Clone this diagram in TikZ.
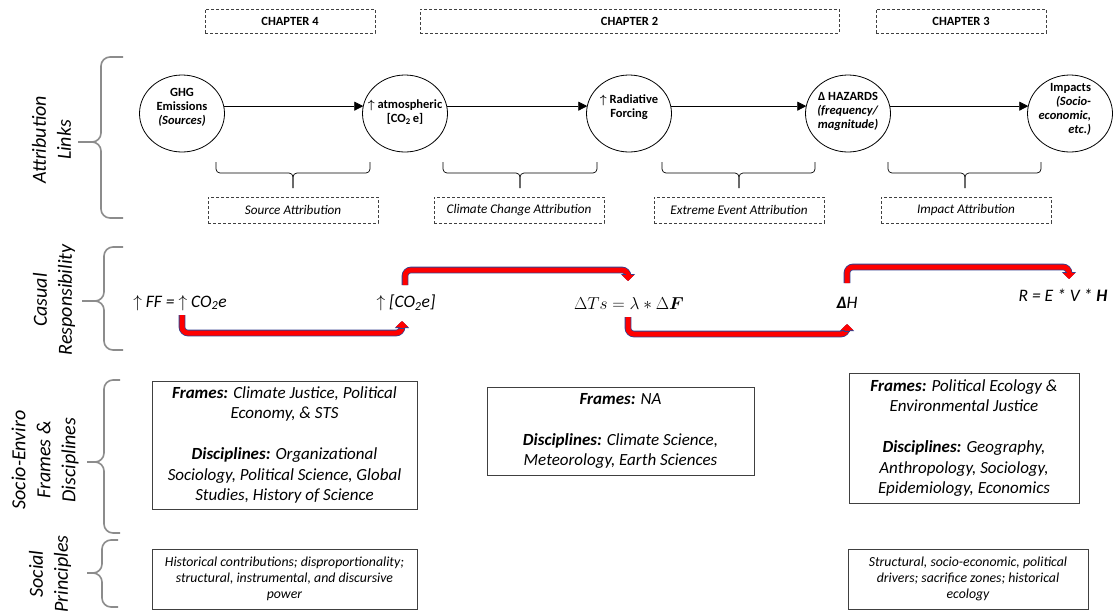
\documentclass[tikz,border=0pt]{standalone}
\usepackage{fontspec}
\usepackage{amsmath}
\setmainfont{Carlito}
\usetikzlibrary{shapes.geometric,arrows.meta,calc}
\definecolor{bracegray}{HTML}{8C8C8C}
\definecolor{boxline}{HTML}{404040}
\definecolor{redarrow}{HTML}{FF0000}
\definecolor{bluerim}{HTML}{34418F}
\newcommand{\fsz}[2]{\fontsize{#1}{#2}\selectfont}
\begin{document}
\begin{tikzpicture}[x=1pt,y=-1pt,
  every node/.style={inner sep=0pt, outer sep=0pt},
  linkcirc/.style={ellipse, draw=black, line width=0.8pt, minimum width=85pt, minimum height=77pt},
  circtext/.style={font=\bfseries\fsz{12.5}{14}, align=center},
  chapbox/.style={draw=boxline, dash pattern=on 3pt off 2pt, line width=0.7pt, font=\bfseries\fsz{12.5}{14}, minimum height=24pt},
  attbox/.style={draw=boxline, dash pattern=on 3pt off 2pt, line width=0.7pt, font=\itshape\fsz{13.2}{15}, minimum width=170pt, minimum height=26pt},
  linkarrow/.style={line width=0.8pt, -{Triangle[length=9pt,width=9pt]}},
  underbrace/.style={line width=0.7pt, rounded corners=4pt},
  sidebrace/.style={draw=bracegray, line width=1.6pt, rounded corners=9pt},
  sidelabel/.style={rotate=90, align=center, font=\itshape\fsz{20}{25}},
  infobox/.style={draw=boxline, line width=0.9pt, align=center, font=\itshape\fsz{17}{20.5}},
  socbox/.style={draw=boxline, line width=0.9pt, align=center, font=\itshape\fsz{13.8}{16}},
  eqtext/.style={font=\itshape\fsz{17.5}{19}},
  redflow/.style={rounded corners=6pt, draw=redarrow, line width=5pt,
     preaction={draw=bluerim, line width=6.6pt}},
  redtip/.style={draw=redarrow, line width=5pt, -{Triangle[length=6pt,width=12pt]},
     preaction={draw=bluerim, line width=6.6pt, -{Triangle[length=7pt,width=14pt]}}}
]
\fill[white] (0,0) rectangle (1119,611);
\useasboundingbox (0,0) rectangle (1119,611);

% chapter headers
\node[chapbox, minimum width=170pt] (ch4) at (290,21) {CHAPTER 4};
\node[chapbox, minimum width=419pt] (ch2) at (629.5,21) {CHAPTER 2};
\node[chapbox, minimum width=170pt] (ch3) at (961,21) {CHAPTER 3};

% side braces and labels
\draw[sidebrace] (123,57) -- (101,57) -- (101,142) -- (78,142);
\draw[sidebrace] (123,218) -- (101,218) -- (101,142) -- (78,142);
\node[sidelabel] (lab1) at (51.5,140) {Attribution\\Links};

\draw[sidebrace] (123,247) -- (104,247) -- (104,301) -- (82,301);
\draw[sidebrace] (123,350) -- (104,350) -- (104,301) -- (82,301);
\node[sidelabel] (lab2) at (54,300) {Casual\\Responsibility};

\draw[sidebrace] (120,380) -- (104,380) -- (104,462) -- (87,462);
\draw[sidebrace] (120,533) -- (104,533) -- (104,462) -- (87,462);
\node[sidelabel] (lab3) at (45,460) {Socio-Enviro\\Frames \&\\Disciplines};

\draw[sidebrace] (118,540) -- (102,540) -- (102,573) -- (87,573);
\draw[sidebrace] (118,607) -- (102,607) -- (102,573) -- (87,573);
\node[sidelabel] (lab4) at (50,574) {Social\\Principles};

% attribution chain
\node[linkcirc] (ghg) at (182,113.5) {};
\node[linkcirc] (atm) at (405,113.5) {};
\node[linkcirc] (rad) at (629,113.5) {};
\node[linkcirc] (haz) at (848,113.5) {};
\node[linkcirc] (imp) at (1070,113.5) {};

\node[circtext] (ghgt) at (182,107.5) {GHG\\Emissions\\\textit{(Sources)}};
\node[circtext] (atmt) at (405,112) {$\boldsymbol{\uparrow}$ atmospheric\\{[}CO\textsubscript{2}\,e{]}};
\node[circtext] (radt) at (629,107.5) {$\boldsymbol{\uparrow}$ Radiative\\Forcing};
\node[circtext] (hazt) at (848,111) {Δ HAZARDS\\\textit{(frequency/}\\\textit{magnitude)}};
\node[circtext, align=right, anchor=east] (impt) at (1091,109.5) {Impacts\\\textit{(Socio-}\\\textit{economic,}\\\textit{etc.)}};

\draw[linkarrow] (ghg.10) -- (atm.170);
\draw[linkarrow] (atm.10) -- (rad.170);
\draw[linkarrow] (rad.10) -- (haz.170);
\draw[linkarrow] (haz.10) -- (imp.170);

% under braces
\draw[underbrace] (216,162) -- (216,173) -- (293,173) -- (293,188);
\draw[underbrace] (370,162) -- (370,173) -- (293,173) -- (293,188);
\draw[underbrace] (443,162) -- (443,173) -- (520,173) -- (520,188);
\draw[underbrace] (597,162) -- (597,173) -- (520,173) -- (520,188);
\draw[underbrace] (662,162) -- (662,173) -- (739,173) -- (739,188);
\draw[underbrace] (815,162) -- (815,173) -- (739,173) -- (739,188);
\draw[underbrace] (888,162) -- (888,173) -- (965,173) -- (965,188);
\draw[underbrace] (1041,162) -- (1041,173) -- (965,173) -- (965,188);

\node[attbox] (srcatt) at (293,210) {Source Attribution};
\node[attbox] (ccatt) at (519,210) {Climate Change Attribution};
\node[attbox] (eeatt) at (739,210) {Extreme Event Attribution};
\node[attbox] (impatt) at (966,210) {Impact Attribution};

% causal responsibility
\node[eqtext] (ff) at (180,303) {$\uparrow$ FF = $\uparrow$ CO\textsubscript{2}e};
\node[eqtext] (co2) at (406,303) {$\uparrow$ [CO\textsubscript{2}e]};
\node[font=\fsz{16}{18}] (dts) at (629,303) {$\Delta Ts = \lambda * \Delta\boldsymbol{F}$};
\node[eqtext] (dh) at (847,303) {\textbf{Δ}H};
\node[eqtext] (risk) at (1063,295) {R = E * V * \textbf{H}};

\coordinate (a1s) at (182,315);
\coordinate (a1e) at (402,321);
\coordinate (a2s) at (405,285);
\coordinate (a2e) at (628,281);
\coordinate (a3s) at (628,317);
\coordinate (a3e) at (847,324);
\coordinate (a4s) at (847,283);
\coordinate (a4e) at (1069,279);

\draw[redflow] (a1s) -- (a1s |- 0,333) -- (a1e |- 0,333) -- ($(a1e)+(0,5)$);
\draw[redtip] ($(a1e)+(0,7)$) -- (a1e);
\draw[redflow] (a2s) -- (a2s |- 0,270) -- (a2e |- 0,270) -- ($(a2e)+(0,-5)$);
\draw[redtip] ($(a2e)+(0,-7)$) -- (a2e);
\draw[redflow] (a3s) -- (a3s |- 0,334) -- (a3e |- 0,334) -- ($(a3e)+(0,5)$);
\draw[redtip] ($(a3e)+(0,7)$) -- (a3e);
\draw[redflow] (a4s) -- (a4s |- 0,267) -- (a4e |- 0,267) -- ($(a4e)+(0,-5)$);
\draw[redtip] ($(a4e)+(0,-7)$) -- (a4e);

% frames & disciplines
\node[infobox, minimum width=265pt, minimum height=128pt] (fr1) at (284.5,445)
  {\textbf{Frames:} Climate Justice, Political\\Economy, \& STS\\[20.5pt]\textbf{Disciplines:} Organizational\\Sociology, Political Science, Global\\Studies, History of Science};
\node[infobox, minimum width=267pt, minimum height=88pt] (fr2) at (620.5,431)
  {\textbf{Frames:} NA\\[20.5pt]\textbf{Disciplines:} Climate Science,\\Meteorology, Earth Sciences};
\node[infobox, minimum width=230pt, minimum height=130pt] (fr3) at (964,438)
  {\textbf{Frames:} Political Ecology \&\\Environmental Justice\\[20.5pt]\textbf{Disciplines:} Geography,\\Anthropology, Sociology,\\Epidemiology, Economics};

% social principles
\node[socbox, minimum width=265pt, minimum height=60pt] (sp1) at (284.5,579)
  {Historical contributions; disproportionality;\\structural, instrumental, and discursive\\power};
\node[socbox, minimum width=240pt, minimum height=60pt] (sp3) at (968,579)
  {Structural, socio-economic, political\\drivers; sacrifice zones; historical\\ecology};
\end{tikzpicture}
\end{document}
